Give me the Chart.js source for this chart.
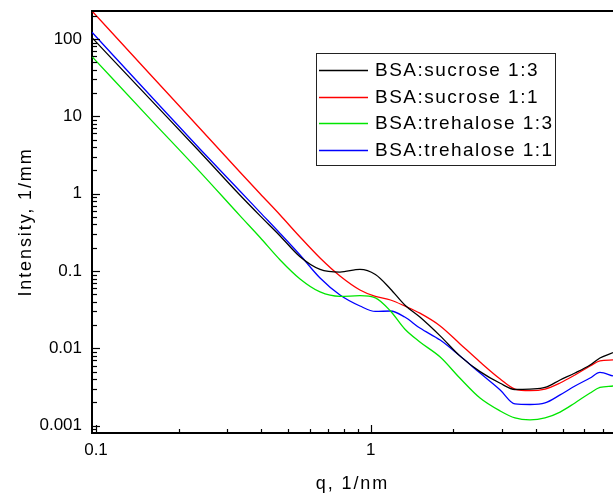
<!DOCTYPE html>
<html>
<head>
<meta charset="utf-8">
<title>BSA SAXS curves</title>
<script src="https://cdn.jsdelivr.net/npm/chart.js@4.4.0/dist/chart.umd.min.js"></script>
<style>
  html, body { margin: 0; padding: 0; background: #fff; }
</style>
</head>
<body>
<canvas id="chartCanvas" width="613" height="502"></canvas>
<script>
// ------- Data -------
const qValues = [0.0967, 0.157, 0.239, 0.334, 0.395, 0.468, 0.553, 0.654, 0.773, 0.914,
  1.04, 1.18, 1.33, 1.51, 1.79, 2.11, 2.5, 2.96, 3.35, 3.8, 4.31, 4.89, 5.54, 6.29, 6.83, 7.62];

const sucrose13 = [104, 16.8, 3.46, 0.96, 0.52, 0.284, 0.153, 0.105, 0.097, 0.105,
  0.090, 0.0586, 0.0364, 0.0254, 0.0145, 0.0080, 0.0050, 0.00354, 0.00294, 0.00298,
  0.00312, 0.0039, 0.0048, 0.0061, 0.0075, 0.0088];

const sucrose11 = [230, 35.3, 6.97, 1.91, 1.006, 0.530, 0.2755, 0.1474, 0.0863, 0.0569,
  0.0469, 0.0422, 0.0353, 0.0285, 0.0195, 0.0115, 0.00667, 0.00402, 0.00298, 0.00284,
  0.00298, 0.00357, 0.00453, 0.00592, 0.00687, 0.00708];

const trehalose13 = [59.1, 9.35, 1.914, 0.52, 0.273, 0.1389, 0.0789, 0.0536, 0.047, 0.048,
  0.045, 0.0304, 0.0178, 0.0121, 0.00773, 0.00414, 0.00228, 0.00155, 0.00126, 0.00119,
  0.00126, 0.0015, 0.00197, 0.00265, 0.00312, 0.00326];

const trehalose11 = [122, 18.9, 3.78, 1.084, 0.577, 0.306, 0.161, 0.0813, 0.049, 0.0353,
  0.0300, 0.0304, 0.0254, 0.0183, 0.0128, 0.0080, 0.0048, 0.0029, 0.00191, 0.00188,
  0.00197, 0.0025, 0.00326, 0.00414, 0.00488, 0.0044];

const xTickValues = [0.1, 1];
const yTickValues = [0.001, 0.01, 0.1, 1, 10, 100];

// ------- Helpers -------
const FONT = "'Liberation Sans', Arial, Helvetica, sans-serif";
Chart.defaults.font.family = FONT;
Chart.defaults.color = "#000";

function toPoints(values) {
  return qValues.map((q, i) => ({ x: q, y: values[i] }));
}

function makeSeries(label, values, color) {
  return {
    label,
    data: toPoints(values),
    borderColor: color,
    backgroundColor: color,
    borderWidth: 1.3,
    pointRadius: 0,
    cubicInterpolationMode: "monotone",
    fill: false,
  };
}

// titles get the wide Origin-like spacing, tick labels do not
const letterSpacing = {
  id: "letterSpacing",
  beforeDraw(chart) { chart.ctx.letterSpacing = "1.9px"; },
  beforeDatasetsDraw(chart) { chart.ctx.letterSpacing = "0px"; },
};

// ticks pointing into the plot + top frame line
const insideTicks = {
  id: "insideTicks",
  afterDatasetsDraw(chart) {
    const { ctx, chartArea: a, scales: { x, y } } = chart;
    ctx.save();
    ctx.strokeStyle = "#000";
    ctx.lineWidth = 2;
    ctx.beginPath();
    ctx.moveTo(a.left, a.top);
    ctx.lineTo(a.right, a.top);
    ctx.stroke();

    ctx.lineWidth = 1.2;
    for (let e = -4; e <= 2; e++) {
      for (let m = 1; m <= 9; m++) {
        const py = Math.round(y.getPixelForValue(m * Math.pow(10, e))) + 0.5;
        if (py < a.top || py > a.bottom) continue;
        const len = m === 1 ? 8 : 5;
        ctx.beginPath();
        ctx.moveTo(a.left, py);
        ctx.lineTo(a.left + len, py);
        ctx.stroke();
      }
    }
    for (let e = -2; e <= 1; e++) {
      for (let m = 1; m <= 9; m++) {
        const px = Math.round(x.getPixelForValue(m * Math.pow(10, e))) + 0.5;
        if (px < a.left || px > a.right) continue;
        const len = m === 1 ? 8 : 4;
        ctx.beginPath();
        ctx.moveTo(px, a.bottom);
        ctx.lineTo(px, a.bottom - len);
        ctx.stroke();
      }
    }
    ctx.restore();
  },
};

// boxed legend inside the plot, upper right
const legendColors = ["#000000", "#ff0000", "#00e600", "#0000ff"];
const boxLegend = {
  id: "boxLegend",
  afterDraw(chart) {
    const ctx = chart.ctx;
    ctx.save();
    ctx.letterSpacing = "1.5px";
    ctx.strokeStyle = "#222";
    ctx.lineWidth = 1;
    ctx.strokeRect(316.5, 53.5, 239, 112);
    ctx.font = `19px ${FONT}`;
    ctx.textBaseline = "middle";
    ctx.textAlign = "left";
    chart.data.datasets.forEach((ds, i) => {
      const rowY = Math.round(70 + i * 26.5) + 0.5;
      ctx.strokeStyle = legendColors[i];
      ctx.lineWidth = 1.3;
      ctx.beginPath();
      ctx.moveTo(319, rowY);
      ctx.lineTo(368, rowY);
      ctx.stroke();
      ctx.fillStyle = "#000";
      ctx.fillText(ds.label, 375, rowY + 0.5);
    });
    ctx.restore();
  },
};

// ------- Chart -------
const ctx = document.getElementById("chartCanvas").getContext("2d");
new Chart(ctx, {
  type: "line",
  data: {
    datasets: [
      makeSeries("BSA:sucrose 1:3", sucrose13, legendColors[0]),
      makeSeries("BSA:sucrose 1:1", sucrose11, legendColors[1]),
      makeSeries("BSA:trehalose 1:3", trehalose13, legendColors[2]),
      makeSeries("BSA:trehalose 1:1", trehalose11, legendColors[3]),
    ],
  },
  options: {
    responsive: false,
    animation: false,
    layout: { padding: { top: 11, right: 0, bottom: 0, left: 0 } },
    plugins: {
      legend: { display: false },
      tooltip: { enabled: false },
    },
    scales: {
      x: {
        type: "logarithmic",
        position: "bottom",
        min: 0.0967,
        max: 7.62,
        afterFit: (scale) => {
          scale.height = 69;
          scale.paddingLeft = 0;
          scale.paddingRight = 0;
        },
        afterBuildTicks: (scale) => { scale.ticks = xTickValues.map((v) => ({ value: v })); },
        grid: { display: false, drawTicks: false },
        border: { display: true, color: "#000", width: 2 },
        ticks: {
          z: 1,
          autoSkip: false,
          maxRotation: 0,
          padding: 7,
          font: { size: 17 },
          callback: (v) => String(v),
        },
        title: {
          display: true,
          text: "q, 1/nm",
          font: { size: 18 },
          padding: { top: 0, bottom: 7.5 },
        },
      },
      y: {
        type: "logarithmic",
        min: 0.000805,
        max: 230,
        afterFit: (scale) => {
          scale.width = 92;
          scale.paddingTop = 0;
          scale.paddingBottom = 0;
        },
        afterBuildTicks: (scale) => { scale.ticks = yTickValues.map((v) => ({ value: v })); },
        grid: { display: false, drawTicks: false },
        border: { display: true, color: "#000", width: 2 },
        ticks: {
          z: 1,
          autoSkip: false,
          padding: 10,
          font: { size: 17 },
          callback: (v) => String(v),
        },
        title: {
          display: true,
          text: "Intensity, 1/mm",
          font: { size: 18 },
          padding: { top: 15, bottom: 0 },
        },
      },
    },
  },
  plugins: [letterSpacing, insideTicks, boxLegend],
});
</script>
</body>
</html>
